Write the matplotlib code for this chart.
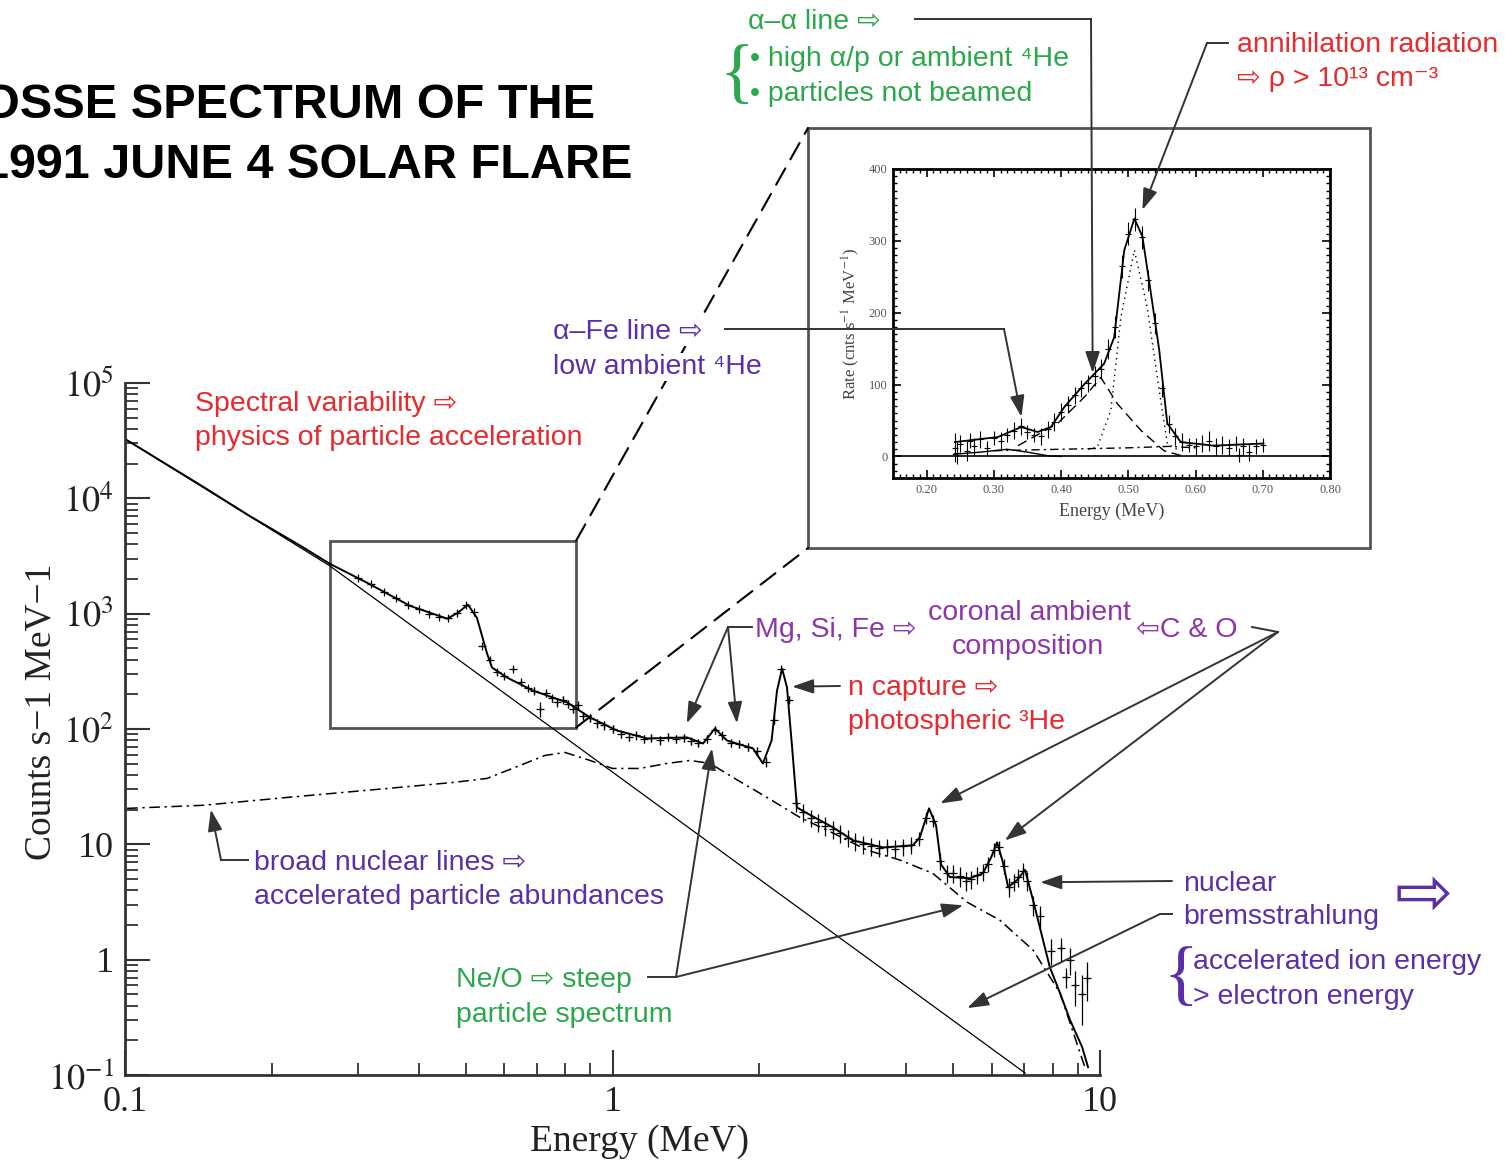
import matplotlib
matplotlib.use("Agg")
import matplotlib.pyplot as plt
from matplotlib.lines import Line2D
from matplotlib.patches import Rectangle, ConnectionPatch
from matplotlib.ticker import LogLocator, NullFormatter, MultipleLocator, FormatStrFormatter

plt.rcParams['font.family'] = ['Liberation Sans', 'DejaVu Sans']
plt.rcParams['mathtext.fontset'] = 'stix'

# ---------------- data ----------------
# OSSE data points: energy (MeV), counts s-1 MeV-1, error
data_E = [0.30, 0.32, 0.34, 0.36, 0.38, 0.40, 0.42, 0.44, 0.46, 0.48,
          0.50, 0.52, 0.54, 0.56, 0.58, 0.60, 0.625, 0.65, 0.67, 0.69,
          0.71, 0.73, 0.75, 0.77, 0.79, 0.81, 0.83, 0.85, 0.87, 0.90,
          0.93, 0.96, 1.00, 1.04, 1.08, 1.12, 1.16, 1.20, 1.25, 1.30,
          1.35, 1.40, 1.45, 1.50, 1.56, 1.62, 1.68, 1.75, 1.82, 1.90,
          1.98, 2.06, 2.14, 2.22, 2.30, 2.38, 2.46, 2.55, 2.64, 2.73,
          2.83, 2.93, 3.04, 3.15, 3.27, 3.39, 3.52, 3.66, 3.80, 3.95,
          4.10, 4.25, 4.40, 4.55, 4.70, 4.85, 5.00, 5.15, 5.30, 5.45,
          5.60, 5.75, 5.90, 6.05, 6.20, 6.35, 6.50, 6.65, 6.80, 6.95,
          7.10, 7.30, 7.55, 7.94, 8.30, 8.52, 8.68, 8.90, 9.20, 9.40]
data_C = [2050, 1800, 1550, 1380, 1200, 1100, 1000, 940, 915, 1010,
          1180, 1030, 520, 400, 310, 290, 330, 255, 225, 215,
          150, 205, 185, 170, 180, 165, 150, 160, 130, 125,
          112, 108, 100, 90, 86, 88, 82, 84, 80, 86,
          82, 84, 78, 76, 82, 98, 88, 76, 74, 70,
          64, 52, 120, 330, 180, 23, 19, 17, 15.5, 14.5,
          13.5, 12.5, 11.4, 10.6, 10.1, 9.7, 9.3, 9.5, 9.2, 9.6,
          9.9, 11.2, 17, 16, 7.2, 5.6, 5.6, 5.3, 4.8, 5.0,
          5.4, 5.8, 6.8, 9, 9.5, 6.5, 4.3, 4.7, 5.2, 5.9,
          4.8, 3.0, 2.4, 1.2, 1.25, 0.71, 1.0, 0.6, 0.5, 0.7]
data_err = [40, 35, 30, 28, 25, 22, 20, 19, 18, 20,
            24, 22, 15, 14, 14, 14, 14, 13, 13, 14,
            22, 14, 12, 14, 13, 12, 12, 12, 11, 10,
            9, 9, 8, 7, 7, 7, 7, 7, 7, 7,
            7, 7, 6, 6, 7, 8, 7, 6, 6, 6,
            6, 5, 10, 15, 12, 4, 3.5, 3, 2.8, 2.6,
            2.4, 2.2, 2.0, 1.9, 1.8, 1.7, 1.6, 1.6, 1.6, 1.6,
            1.6, 1.6, 2, 2, 1.2, 1.0, 1.0, 1.0, 0.9, 0.9,
            0.9, 1.0, 1.0, 1.2, 1.2, 1.0, 0.8, 0.8, 0.9, 1.0,
            0.9, 0.6, 0.5, 0.3, 0.3, 0.14, 0.26, 0.2, 0.23, 0.26]

# total model fit
fit_E = [0.100, 0.1425, 0.180, 0.229, 0.263, 0.3136, 0.384, 0.458, 0.482, 0.505,
         0.527, 0.553, 0.566, 0.608, 0.687, 0.807, 0.899, 1.021, 1.178, 1.422,
         1.534, 1.622, 1.717, 1.942, 2.035, 2.12, 2.175, 2.228, 2.28, 2.336,
         2.39, 2.506, 2.835, 3.115, 3.59, 4.13, 4.27, 4.46, 4.61, 4.72,
         4.92, 5.41, 5.75, 5.98, 6.15, 6.32, 6.48, 6.76, 7.02, 7.29,
         7.64, 7.89, 8.28, 8.68, 9.19, 9.45]
fit_C = [32700, 13100, 7050, 3880, 2710, 1855, 1170, 905, 1020, 1197,
         923, 451, 341, 279, 215, 170, 126, 97, 82.8, 84.5,
         74.9, 101, 79.5, 67.8, 50.3, 79.5, 215, 334, 229, 69,
         20.9, 18.6, 14.0, 10.8, 9.4, 9.8, 11.5, 20.5, 14.6, 6.7,
         5.2, 5.08, 5.6, 7.7, 10.4, 7.0, 4.25, 4.9, 6.0, 3.27,
         1.48, 0.86, 0.513, 0.30, 0.175, 0.117]

# broad nuclear-line component (dash-dot)
nuc_E = [0.101, 0.1446, 0.215, 0.345, 0.471, 0.553, 0.646, 0.727, 0.799, 0.899,
         1.0, 1.138, 1.294, 1.442, 1.585, 1.767, 2.075, 2.425, 2.835, 3.33,
         3.89, 4.54, 5.34, 6.23, 7.29, 8.28, 9.31]
nuc_C = [20.5, 21.8, 25.5, 30.5, 34.4, 37.3, 48.3, 59, 62.6, 53.4,
         45.5, 45.5, 50.3, 53.4, 50.3, 38, 25.5, 17.1, 12.5, 8.9,
         7.3, 5.6, 3.15, 2.2, 1.21, 0.513, 0.117]

# electron bremsstrahlung power law
pl_E = [0.1, 0.263, 7.02]
pl_C = [32700, 2600, 0.104]

# zoom box on the main plot (energy, counts)
box_E = [0.263, 0.842]
box_C = [103, 4290]

# inset: 0.2-0.8 MeV rate spectrum
in_E = [0.242, 0.245, 0.25, 0.26, 0.265, 0.27, 0.28, 0.29, 0.30, 0.31,
        0.32, 0.33, 0.34, 0.35, 0.36, 0.37, 0.38, 0.39, 0.40, 0.41,
        0.42, 0.43, 0.44, 0.45, 0.46, 0.47, 0.48, 0.49, 0.50, 0.51,
        0.52, 0.53, 0.54, 0.55, 0.56, 0.57, 0.58, 0.59, 0.60, 0.61,
        0.62, 0.63, 0.64, 0.65, 0.66, 0.665, 0.67, 0.68, 0.69, 0.70]
in_R = [12, 5, 18, 8, 22, 14, 24, 12, 26, 22,
        30, 36, 42, 34, 30, 28, 38, 48, 62, 72,
        85, 95, 102, 112, 122, 150, 180, 265, 310, 330,
        305, 245, 185, 95, 45, 28, 20, 16, 14, 18,
        22, 14, 16, 12, 18, 2, 14, 6, 14, 16]
in_err = [20, 15, 12, 14, 10, 12, 12, 10, 10, 12,
          10, 12, 12, 10, 10, 12, 12, 12, 12, 12,
          12, 12, 12, 14, 14, 14, 15, 16, 16, 16,
          16, 15, 14, 12, 12, 12, 12, 10, 12, 12,
          14, 12, 12, 12, 10, 10, 12, 12, 10, 10]

in_fit_E = [0.242, 0.306, 0.341, 0.365, 0.385, 0.405, 0.435, 0.464, 0.479, 0.494,
            0.509, 0.521, 0.533, 0.546, 0.558, 0.578, 0.627, 0.701]
in_fit_R = [20, 27, 41, 34, 41, 69, 101, 129, 166, 287,
            331, 306, 231, 148, 46, 20, 15, 18]
in_aa_E = [0.336, 0.395, 0.435, 0.459, 0.484, 0.519, 0.553, 0.583]
in_aa_R = [15, 46, 83, 110, 73, 36, 8, 0]
in_511_E = [0.440, 0.454, 0.474, 0.489, 0.509, 0.528, 0.546, 0.558, 0.572]
in_511_R = [10, 13, 64, 194, 287, 208, 92, 18, 10]
in_cont_E = [0.30, 0.40, 0.50, 0.56, 0.60]
in_cont_R = [8, 10, 12, 14, 12]
in_fe_E = [0.24, 0.28, 0.32, 0.35, 0.38, 0.40]
in_fe_R = [3, 6, 10, 6, 1, 0]

# ---------------- layout helpers ----------------
W, H = 1506, 1163


def fp(x, y):
    """pixel position -> figure fraction"""
    return (x / W, 1 - y / H)


RED = '#e8292d'
GREEN = '#2ba84c'
PURPLE = '#5b2fa8'
MAGENTA = '#8c36a9'
LEAD = '#333333'
SERIF = ['Liberation Serif', 'DejaVu Serif']

fig = plt.figure(figsize=(W / 100, H / 100), dpi=100)

# ---------------- main axes ----------------
ax = fig.add_axes([125 / W, 1 - 1075 / H, 975 / W, 692 / H])
ax.set_xscale('log')
ax.set_yscale('log')
ax.set_xlim(0.1, 10)
ax.set_ylim(0.1, 1e5)

ax.plot(pl_E, pl_C, color='k', lw=0.9)
ax.plot(nuc_E, nuc_C, color='k', lw=1.1, dashes=[7, 3, 1.5, 3])
ax.plot(fit_E, fit_C, color='k', lw=1.4)
ax.errorbar(data_E, data_C, yerr=data_err, fmt='+', ms=6, mew=0.9,
            elinewidth=0.9, color='k', capsize=0)

ax.add_patch(Rectangle((box_E[0], box_C[0]), box_E[1] - box_E[0], box_C[1] - box_C[0],
                       fill=False, ec='#555555', lw=2, zorder=1))

for s in ['top', 'right']:
    ax.spines[s].set_visible(False)
for s in ['left', 'bottom']:
    ax.spines[s].set_linewidth(2)
    ax.spines[s].set_color('#333333')

ax.xaxis.set_minor_locator(LogLocator(base=10, subs=range(2, 10)))
ax.yaxis.set_minor_locator(LogLocator(base=10, subs=range(2, 10), numticks=20))
ax.xaxis.set_minor_formatter(NullFormatter())
ax.yaxis.set_minor_formatter(NullFormatter())
ax.tick_params(which='major', direction='in', length=18, width=1.5, color='#333333',
               labelsize=26, pad=8)
ax.tick_params(which='minor', direction='in', length=9, width=1.3, color='#333333')
ax.set_xticks([0.1, 1, 10])
ax.set_xticklabels(['0.1', '1', '10'])
ax.set_yticks([0.1, 1, 10, 100, 1e3, 1e4, 1e5])
ax.set_yticklabels(['$10^{-1}$', '1', '10', '$10^{2}$', '$10^{3}$', '$10^{4}$', '$10^{5}$'])
for lbl in ax.get_xticklabels() + ax.get_yticklabels():
    lbl.set_fontfamily(SERIF)
    lbl.set_color('#222222')

ax.set_xlabel('Energy (MeV)', fontsize=27, family=SERIF, color='#222222')
ax.set_ylabel('Counts s\u22121 MeV\u22121', fontsize=27, family=SERIF, color='#222222')
ax.xaxis.set_label_coords(0.528, -0.072)
ax.yaxis.set_label_coords(-0.068, 0.525)

# ---------------- inset ----------------
axi = fig.add_axes([893 / W, 1 - 478 / H, 437 / W, 309 / H])
axi.set_xlim(0.15, 0.80)
axi.set_ylim(-30, 400)
axi.axhline(0, color='k', lw=1.2)
axi.errorbar(in_E, in_R, yerr=in_err, fmt='+', ms=5, mew=0.8, elinewidth=0.8,
             color='k', capsize=0)
axi.plot(in_fit_E, in_fit_R, color='k', lw=1.3)
axi.plot(in_aa_E, in_aa_R, color='k', lw=1.0, dashes=[7, 4])
axi.plot(in_511_E, in_511_R, color='k', lw=1.0, dashes=[1, 3])
axi.plot(in_cont_E, in_cont_R, color='k', lw=1.0, dashes=[6, 3, 1.5, 3])
axi.plot(in_fe_E, in_fe_R, color='k', lw=1.0)
for s in axi.spines.values():
    s.set_linewidth(2)
axi.xaxis.set_major_locator(MultipleLocator(0.1))
axi.xaxis.set_minor_locator(MultipleLocator(0.01))
axi.yaxis.set_major_locator(MultipleLocator(100))
axi.yaxis.set_minor_locator(MultipleLocator(10))
axi.xaxis.set_major_formatter(FormatStrFormatter('%.2f'))
axi.tick_params(which='both', direction='in', top=True, right=True)
axi.tick_params(which='major', length=6, width=1.2, labelsize=9, labelcolor='#555555', pad=4)
axi.tick_params(which='minor', length=3, width=1.0)
for lbl in axi.get_xticklabels() + axi.get_yticklabels():
    lbl.set_fontfamily(SERIF)
axi.set_xlabel('Energy (MeV)', fontsize=13, color='#444444', family=SERIF, labelpad=5)
axi.set_ylabel('Rate (cnts s$^{-1}$ MeV$^{-1}$)', fontsize=12, color='#444444',
               family=SERIF, labelpad=5)

# inset frame and dashed connectors
x0, y0 = fp(808, 548)
x1, y1 = fp(1370, 128)
fig.add_artist(Rectangle((x0, y0), x1 - x0, y1 - y0, transform=fig.transFigure,
                         fill=False, ec='#555555', lw=2, zorder=1))
for c, corner in [(box_C[1], fp(808, 128)), (box_C[0], fp(808, 548))]:
    fig.add_artist(ConnectionPatch(xyA=(box_E[1], c), coordsA=ax.transData,
                                   xyB=corner, coordsB='figure fraction',
                                   color='k', lw=1.5, linestyle=(0, (9, 5)), zorder=1))


# ---------------- annotations ----------------
def text(x, y, s, color, size=20.5, **kw):
    fig.text(x / W, 1 - (y + 3) / H, s, color=color, fontsize=size, ha=kw.pop('ha', 'left'),
             va='center', zorder=5, **kw)


def leader(xs, ys):
    fig.add_artist(Line2D([x / W for x in xs], [1 - y / H for y in ys],
                          transform=fig.transFigure, color=LEAD, lw=1.4, zorder=4))


def arrow(start, tip, axes):
    fig.add_artist(ConnectionPatch(xyA=fp(*start), coordsA='figure fraction',
                                   xyB=tip, coordsB=axes.transData,
                                   arrowstyle='-|>,head_length=0.65,head_width=0.22',
                                   mutation_scale=20, color=LEAD, lw=1.4, zorder=4))


def brace(x, y, color):
    fig.text(x / W, 1 - y / H, '{', color=color, fontsize=52, va='center',
             ha='left', family=SERIF)


text(595, 102, 'OSSE SPECTRUM OF THE', 'k', size=35, ha='right', fontweight='bold')
text(632, 163, '1991 JUNE 4 SOLAR FLARE', 'k', size=35, ha='right', fontweight='bold')

text(195, 401, 'Spectral variability \u21e8', RED)
text(195, 435, 'physics of particle acceleration', RED)

white = dict(facecolor='white', edgecolor='none', pad=1)
text(553, 329, '\u03b1\u2013Fe line \u21e8', PURPLE, bbox=white)
text(553, 364, 'low ambient \u2074He', PURPLE, bbox=white)
leader([725, 1004], [329, 329])
arrow((1004, 329), (0.341, 55), axi)

text(748, 19, '\u03b1\u2013\u03b1 line \u21e8', GREEN)
leader([915, 1091], [19, 19])
arrow((1091, 19), (0.447, 116), axi)
brace(719, 76, GREEN)
text(750, 56, '\u2022 high \u03b1/p or ambient \u2074He', GREEN)
text(750, 91, '\u2022 particles not beamed', GREEN)

text(1237, 42, 'annihilation radiation', RED)
text(1237, 76, '\u21e8 \u03c1 > 10\u00b9\u00b3 cm\u207b\u00b3', RED)
leader([1228, 1207], [43, 43])
arrow((1207, 43), (0.521, 343), axi)

text(755, 627, 'Mg, Si, Fe \u21e8', MAGENTA)
text(928, 610, 'coronal ambient', MAGENTA)
text(1028, 644, 'composition', MAGENTA, ha='center')
text(1136, 627, '\u21e6C & O', MAGENTA)
leader([752, 728], [627, 627])
arrow((728, 627), (1.42, 112), ax)
arrow((728, 627), (1.80, 112), ax)
leader([1252, 1278], [627, 632])
arrow((1278, 632), (4.70, 22.6), ax)
arrow((1278, 632), (6.38, 10.8), ax)

text(848, 685, 'n capture \u21e8', RED)
text(848, 719, 'photospheric \u00b3He', RED)
arrow((840, 686), (2.336, 233), ax)

text(254, 860, 'broad nuclear lines \u21e8', PURPLE)
text(254, 894, 'accelerated particle abundances', PURPLE)
leader([248, 221], [860, 860])
arrow((221, 860), (0.150, 20), ax)

text(456, 977, 'Ne/O \u21e8 steep', GREEN)
text(456, 1012, 'particle spectrum', GREEN)
leader([648, 676], [977, 977])
arrow((676, 977), (1.60, 67.8), ax)
arrow((676, 977), (5.24, 2.96), ax)

text(1183, 881, 'nuclear', PURPLE)
text(1183, 914, 'bremsstrahlung', PURPLE)
arrow((1172, 881), (7.54, 4.69), ax)
leader([1172, 1160], [914, 914])
arrow((1160, 914), (5.34, 0.38), ax)
text(1424, 893, '\u21e8', PURPLE, size=50, ha='center', family=['DejaVu Sans'])
brace(1163, 978, PURPLE)
text(1193, 959, 'accelerated ion energy', PURPLE)
text(1193, 994, '> electron energy', PURPLE)

fig.savefig('out.png', dpi=100)
